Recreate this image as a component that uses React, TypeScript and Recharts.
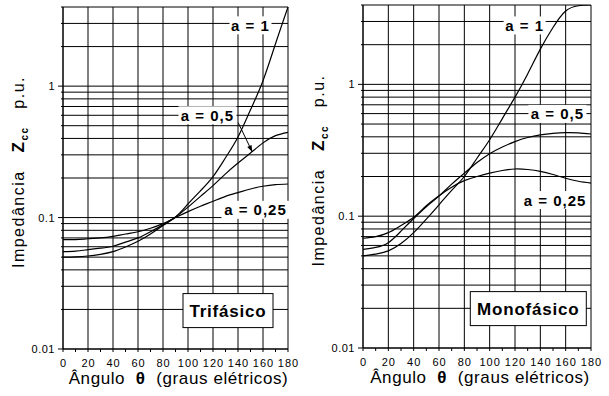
import React from 'react';
import { LineChart, Line, XAxis, YAxis, CartesianGrid, ReferenceLine, ReferenceDot } from 'recharts';

const FONT = "'Liberation Sans', Arial, sans-serif";

// angle in electrical degrees
const angles = [0, 10, 20, 30, 40, 50, 60, 70, 80, 90, 100, 110, 120, 130, 140, 150, 160, 170, 180];

// Trifásico (three-phase), Zcc in p.u.
const triA1 = [0.05, 0.0503, 0.051, 0.0525, 0.055, 0.0597, 0.066, 0.075, 0.087, 0.101, 0.127, 0.16, 0.205, 0.285, 0.41, 0.66, 1.1, 2.1, 4.0];
const triA05 = [0.055, 0.0555, 0.057, 0.0585, 0.0605, 0.065, 0.07, 0.078, 0.088, 0.101, 0.12, 0.145, 0.175, 0.215, 0.26, 0.31, 0.37, 0.42, 0.445];
const triA025 = [0.068, 0.068, 0.069, 0.07, 0.072, 0.075, 0.078, 0.083, 0.09, 0.1, 0.111, 0.122, 0.133, 0.145, 0.155, 0.165, 0.173, 0.178, 0.18];

// Monofásico (single-phase)
const monoA1 = [0.05, 0.0515, 0.0545, 0.062, 0.075, 0.095, 0.122, 0.157, 0.2, 0.275, 0.38, 0.55, 0.8, 1.2, 1.85, 2.7, 3.6, 3.95, 4.0];
const monoA05 = [0.056, 0.058, 0.063, 0.077, 0.096, 0.118, 0.142, 0.175, 0.212, 0.255, 0.298, 0.335, 0.368, 0.395, 0.414, 0.425, 0.43, 0.428, 0.42];
const monoA025 = [0.068, 0.07, 0.075, 0.085, 0.098, 0.12, 0.143, 0.166, 0.186, 0.2, 0.212, 0.222, 0.228, 0.226, 0.219, 0.207, 0.194, 0.184, 0.178];

const yTicks = [
  0.01, 0.02, 0.03, 0.04, 0.05, 0.06, 0.07, 0.08, 0.09,
  0.1, 0.2, 0.3, 0.4, 0.5, 0.6, 0.7, 0.8, 0.9,
  1, 2, 3, 4,
];
const yLabelled = [0.01, 0.1, 1];
const xTicks = [0, 10, 20, 30, 40, 50, 60, 70, 80, 90, 100, 110, 120, 130, 140, 150, 160, 170, 180];
const xMajor = [0, 20, 40, 60, 80, 100, 120, 140, 160, 180];

const triRows = angles.map((t, i) => ({ theta: t, a1: triA1[i], a05: triA05[i], a025: triA025[i] }));
const monoRows = angles.map((t, i) => ({ theta: t, a1: monoA1[i], a05: monoA05[i], a025: monoA025[i] }));

const LogTick = ({ x, y, payload }: any) => {
  const v = payload.value;
  const major = yLabelled.includes(v);
  return (
    <g>
      <line x1={x - (major ? 5 : 2)} x2={x} y1={y} y2={y} stroke="#000" />
      {major && (
        <text x={x - 8} y={y + 4} textAnchor="end" fontSize={11} letterSpacing={0.5} fontFamily={FONT} fill="#000">
          {String(v)}
        </text>
      )}
    </g>
  );
};

const AngleTick = ({ x, y, payload }: any) => {
  const v = payload.value;
  const major = v % 20 === 0;
  return (
    <g>
      <line x1={x} x2={x} y1={y} y2={y + 3} stroke="#000" />
      {major && (
        <text x={x + 0.5} y={y + 18} textAnchor="middle" fontSize={11} letterSpacing={1} fontFamily={FONT} fill="#000">
          {v}
        </text>
      )}
    </g>
  );
};

const XTitle = ({ viewBox }: any) => {
  const { x, y, width } = viewBox;
  return (
    <text x={x + width / 2 + 3} y={y + 35} textAnchor="middle" fontSize={17} letterSpacing={0.6} fontFamily={FONT} fill="#000" style={{ whiteSpace: 'pre' }}>
      {'Ângulo  '}
      <tspan fontWeight="bold">θ</tspan>
      {'  (graus elétricos)'}
    </text>
  );
};

const YTitle = ({ viewBox }: any) => {
  const { x, y, height } = viewBox;
  const cx = x + 24;
  const cy = y + height / 2 - 6;
  return (
    <text
      x={cx}
      y={cy}
      transform={`rotate(-90, ${cx}, ${cy})`}
      textAnchor="middle"
      fontSize={16}
      letterSpacing={1.5}
      fontFamily={FONT}
      fill="#000"
      style={{ whiteSpace: 'pre' }}
    >
      {'Impedância   '}
      <tspan fontWeight="bold" fontSize={17}>Z</tspan>
      <tspan fontWeight="bold" fontSize={10} dy={4}>cc</tspan>
      <tspan dy={-4}>{'   p.u.'}</tspan>
    </text>
  );
};

type Tag = { theta: number; value: number; text: string; w: number };
type Arrow = { from: [number, number]; to: [number, number] };

const tagShape = (text: string, w: number) => (p: any) => (
  <g>
    <rect x={p.cx - w / 2} y={p.cy - 9} width={w} height={18} fill="#fff" />
    <text x={p.cx} y={p.cy + 5.5} textAnchor="middle" fontSize={15} fontWeight="bold" letterSpacing={1} fontFamily={FONT} fill="#000">
      {text}
    </text>
  </g>
);

const boxShape = (text: string, w: number) => (p: any) => (
  <g>
    <rect x={p.cx - w / 2} y={p.cy - 17} width={w} height={34} fill="#fff" stroke="#000" strokeWidth={1} />
    <text x={p.cx} y={p.cy + 6} textAnchor="middle" fontSize={17} fontWeight="bold" letterSpacing={0.8} fontFamily={FONT} fill="#000">
      {text}
    </text>
  </g>
);

const arrowShape = (p: any) => {
  const { x1, y1, x2, y2 } = p;
  const ang = Math.atan2(y2 - y1, x2 - x1);
  const L = 7;
  const s = 0.35;
  const ax = x2 - L * Math.cos(ang - s);
  const ay = y2 - L * Math.sin(ang - s);
  const bx = x2 - L * Math.cos(ang + s);
  const by = y2 - L * Math.sin(ang + s);
  return (
    <g>
      <line x1={x1} y1={y1} x2={x2} y2={y2} stroke="#000" strokeWidth={1} />
      <polygon points={`${x2},${y2} ${ax},${ay} ${bx},${by}`} fill="#000" />
    </g>
  );
};

interface PanelProps {
  rows: any[];
  tags: Tag[];
  box: { theta: number; value: number; text: string; w: number };
  arrow?: Arrow;
  width: number;
  margin: { top: number; right: number; left: number; bottom: number };
  xHeight: number;
}

function Panel({ rows, tags, box, arrow, width, margin, xHeight }: PanelProps) {
  return (
    <LineChart width={width} height={396} data={rows} margin={margin}>
      <CartesianGrid horizontal vertical={false} stroke="#000" strokeWidth={1} />
      {xMajor.map((v) => (
        <ReferenceLine key={v} x={v} stroke="#000" strokeWidth={1} />
      ))}
      <XAxis
        dataKey="theta"
        type="number"
        domain={[0, 180]}
        ticks={xTicks}
        interval={0}
        tickSize={0}
        tickMargin={0}
        tick={<AngleTick />}
        axisLine={{ stroke: '#000' }}
        height={xHeight}
        label={{ content: <XTitle /> }}
      />
      <YAxis
        scale="log"
        type="number"
        domain={[0.01, 4]}
        allowDataOverflow
        ticks={yTicks}
        interval={0}
        tickSize={0}
        tickMargin={0}
        tick={<LogTick />}
        axisLine={{ stroke: '#000' }}
        width={63}
        label={{ content: <YTitle /> }}
      />
      <Line type="natural" dataKey="a1" stroke="#000" strokeWidth={1.2} dot={false} isAnimationActive={false} />
      <Line type="natural" dataKey="a05" stroke="#000" strokeWidth={1.2} dot={false} isAnimationActive={false} />
      <Line type="natural" dataKey="a025" stroke="#000" strokeWidth={1.2} dot={false} isAnimationActive={false} />
      {arrow && (
        <ReferenceLine
          segment={[
            { x: arrow.from[0], y: arrow.from[1] },
            { x: arrow.to[0], y: arrow.to[1] },
          ]}
          shape={arrowShape}
        />
      )}
      {tags.map((t) => (
        <ReferenceDot key={t.text} x={t.theta} y={t.value} r={0} shape={tagShape(t.text, t.w)} />
      ))}
      <ReferenceDot x={box.theta} y={box.value} r={0} shape={boxShape(box.text, box.w)} />
    </LineChart>
  );
}

const triTags: Tag[] = [
  { theta: 150, value: 2.9, text: 'a = 1', w: 42 },
  { theta: 115.6, value: 0.6, text: 'a = 0,5', w: 58 },
  { theta: 154, value: 0.1145, text: 'a = 0,25', w: 68 },
];
const monoTags: Tag[] = [
  { theta: 127.6, value: 2.8, text: 'a = 1', w: 42 },
  { theta: 153.5, value: 0.597, text: 'a = 0,5', w: 58 },
  { theta: 151.6, value: 0.1325, text: 'a = 0,25', w: 68 },
];

export default function App() {
  return (
    <div style={{ position: 'absolute', left: 0, top: 0, width: 609, height: 396, background: '#fff' }}>
      <div style={{ position: 'absolute', left: 0, top: 0 }}>
        <Panel
          rows={triRows}
          tags={triTags}
          box={{ theta: 132, value: 0.0196, text: 'Trifásico', w: 90 }}
          arrow={{ from: [140.2, 0.526], to: [151.4, 0.316] }}
          width={300}
          margin={{ top: 7, right: 12, left: 0, bottom: 0 }}
          xHeight={47}
        />
      </div>
      <div style={{ position: 'absolute', left: 300, top: 0 }}>
        <Panel
          rows={monoRows}
          tags={monoTags}
          box={{ theta: 130.5, value: 0.0199, text: 'Monofásico', w: 116 }}
          width={309}
          margin={{ top: 5, right: 18, left: 0, bottom: 0 }}
          xHeight={48}
        />
      </div>
    </div>
  );
}
